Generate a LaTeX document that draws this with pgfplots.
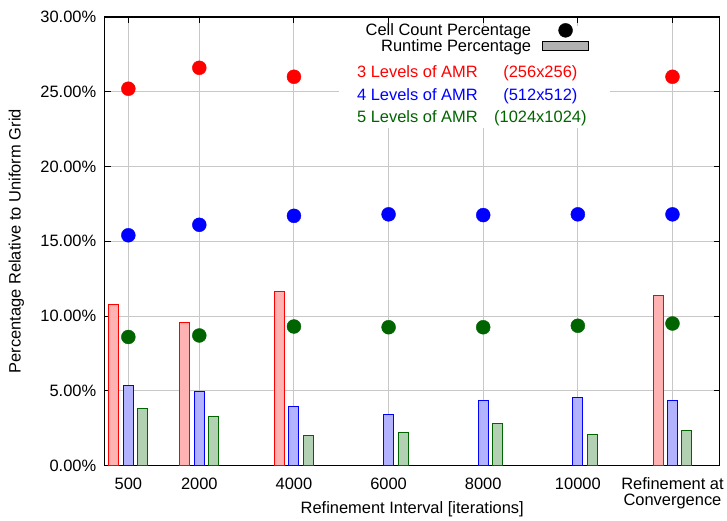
\documentclass[border=0pt]{standalone}
\usepackage{fontspec}
\setmainfont{Liberation Sans}
\usepackage{pgfplots}
\pgfplotsset{compat=1.18}
\definecolor{dgreen}{RGB}{0,100,0}
\definecolor{gridgray}{RGB}{200,200,200}
\begin{document}
\begin{tikzpicture}
\begin{axis}[
 scale only axis, width=617pt, height=450pt,
 xmin=0, xmax=13000, ymin=0, ymax=30,
 clip=false,
 scaled x ticks=false, scaled y ticks=false,
 font=\fontsize{16.5}{16}\selectfont,
 xtick={500,2000,4000,6000,8000,10000,12000},
 xticklabels={500,2000,4000,6000,8000,10000,{Refinement at\\Convergence}},
 xticklabel style={align=center, font=\fontsize{16.5}{16}\selectfont, yshift=-9pt},
 ytick={0,5,...,30},
 yticklabel={\pgfmathprintnumber[fixed,fixed zerofill,precision=2,assume math mode=true]{\tick}\%},
 yticklabel style={xshift=-5pt},
 grid=major, grid style={gridgray, line width=1pt},
 tick align=inside, major tick length=6pt,
 tick style={black, line width=1pt},
 axis line style={line width=1.3pt},
 xlabel={Refinement Interval [iterations]},
 ylabel={Percentage Relative to Uniform Grid},
 xlabel style={at={(axis description cs:0.5,-0.098)}, anchor=center},
 ylabel style={at={(axis description cs:-0.1434,0.5)}, anchor=center},
 legend plot pos=right,
 legend cell align=right,
 legend style={draw=none, fill=none, at={(axis cs:10303,29.73)}, anchor=north east,
   nodes={inner sep=0pt}, column sep=11pt, row sep=2pt,
   font=\fontsize{16.5}{16}\selectfont},
]
\addlegendimage{legend image code/.code={\path[draw=none,fill=none] (0pt,0pt) -- (46pt,0pt);\fill[black] (23pt,0pt) circle (7pt);}}
\addlegendentry{Cell Count Percentage}
\addlegendimage{legend image code/.code={\draw[black, fill=gray!60, line width=1pt] (0pt,-4.5pt) rectangle (46pt,4.5pt);}}
\addlegendentry{Runtime Percentage}

\fill[white] (axis cs:4950,22.6) rectangle (axis cs:10680,29.4);

\addplot[forget plot, ybar, bar width=10pt, bar shift=-14.5pt, draw=red, fill=red!30, line width=1pt]
 coordinates {(500,10.8) (2000,9.55) (4000,11.65) (12000,11.4)};
\addplot[forget plot, ybar, bar width=10pt, bar shift=0pt, draw=blue, fill=blue!30, line width=1pt]
 coordinates {(500,5.37) (2000,4.98) (4000,3.93) (6000,3.44) (8000,4.33) (10000,4.55) (12000,4.33)};
\addplot[forget plot, ybar, bar width=10pt, bar shift=14.5pt, draw=dgreen, fill=dgreen!30, line width=1pt]
 coordinates {(500,3.82) (2000,3.29) (4000,2.0) (6000,2.18) (8000,2.84) (10000,2.07) (12000,2.33)};

\addplot[forget plot, only marks, mark=*, mark size=7pt, red, mark options={fill=red, draw=red}]
 coordinates {(500,25.2) (2000,26.6) (4000,26.0) (12000,26.0)};
\addplot[forget plot, only marks, mark=*, mark size=7pt, blue, mark options={fill=blue, draw=blue}]
 coordinates {(500,15.4) (2000,16.1) (4000,16.7) (6000,16.8) (8000,16.75) (10000,16.8) (12000,16.8)};
\addplot[forget plot, only marks, mark=*, mark size=7pt, dgreen, mark options={fill=dgreen, draw=dgreen}]
 coordinates {(500,8.6) (2000,8.7) (4000,9.3) (6000,9.25) (8000,9.25) (10000,9.35) (12000,9.5)};

\node[anchor=base west, inner sep=0pt, text=red] at (axis cs:5331,25.93) {3 Levels of AMR};
\node[anchor=base, inner sep=0pt, text=red] at (axis cs:9208,25.93) {(256x256)};
\node[anchor=base west, inner sep=0pt, text=blue] at (axis cs:5331,24.4) {4 Levels of AMR};
\node[anchor=base, inner sep=0pt, text=blue] at (axis cs:9208,24.4) {(512x512)};
\node[anchor=base west, inner sep=0pt, text=dgreen] at (axis cs:5331,22.93) {5 Levels of AMR};
\node[anchor=base, inner sep=0pt, text=dgreen] at (axis cs:9208,22.93) {(1024x1024)};

\path (rel axis cs:-0.1702,-0.1089) rectangle (rel axis cs:1.0081,1.0378);
\end{axis}
\end{tikzpicture}
\end{document}
